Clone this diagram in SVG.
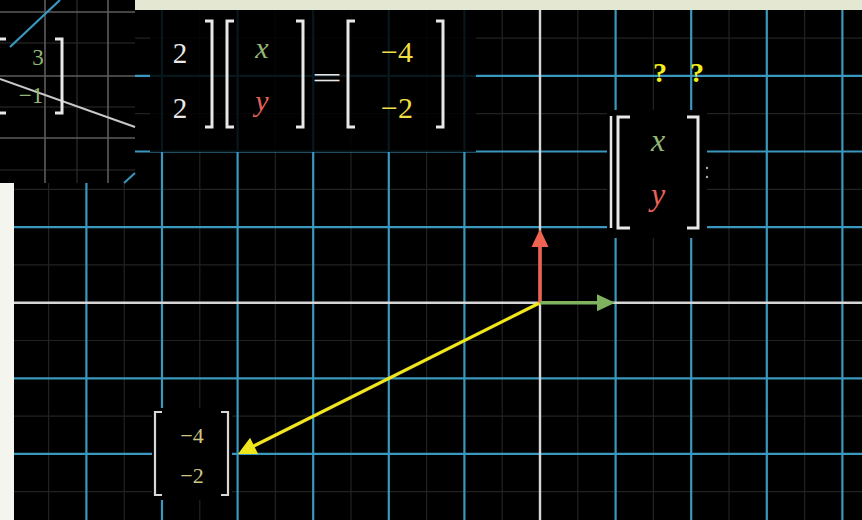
<svg xmlns="http://www.w3.org/2000/svg" width="862" height="520" viewBox="0 0 862 520">
<style>
.minor{stroke:#222222;stroke-width:1.2}
.major{stroke:#3a97bd;stroke-width:2.2}
.axis{stroke:#d6d6d6;stroke-width:2.4}
.br{fill:none;stroke:#e8e8e8;stroke-width:3;stroke-linecap:butt}
.brs{fill:none;stroke:#d8d8d8;stroke-width:2.2}
.tx{font-family:"Liberation Serif","DejaVu Serif",serif;text-anchor:middle}
.it{font-style:italic}
.w{fill:#e8e8e8}
.g{fill:#93b774}
.r{fill:#e4625a}
.yl{fill:#efdf45}
.kh{fill:#cfc785}
.q{fill:#f2ee1c;font-weight:bold}
</style>
<g id="background">
<rect x="0" y="0" width="862" height="520" fill="#000"/>
<rect x="135" y="0" width="727" height="10" fill="#e4e7d1"/>
<rect x="0" y="183" width="14" height="337" fill="#f4f5ef"/>
</g>
<g id="grid">
<g class="minor">
<line x1="48.6" y1="10" x2="48.6" y2="520"/><line x1="124.2" y1="10" x2="124.2" y2="520"/><line x1="199.8" y1="10" x2="199.8" y2="520"/><line x1="275.4" y1="10" x2="275.4" y2="520"/><line x1="351" y1="10" x2="351" y2="520"/><line x1="426.6" y1="10" x2="426.6" y2="520"/><line x1="502.2" y1="10" x2="502.2" y2="520"/><line x1="577.8" y1="10" x2="577.8" y2="520"/><line x1="653.4" y1="10" x2="653.4" y2="520"/><line x1="729" y1="10" x2="729" y2="520"/><line x1="804.6" y1="10" x2="804.6" y2="520"/>
<line x1="14" y1="38.1" x2="862" y2="38.1"/><line x1="14" y1="113.7" x2="862" y2="113.7"/><line x1="14" y1="189.3" x2="862" y2="189.3"/><line x1="14" y1="264.9" x2="862" y2="264.9"/><line x1="14" y1="340.5" x2="862" y2="340.5"/><line x1="14" y1="416.1" x2="862" y2="416.1"/><line x1="14" y1="491.7" x2="862" y2="491.7"/>
</g>
<g class="major">
<line x1="86.4" y1="10" x2="86.4" y2="520"/><line x1="162" y1="10" x2="162" y2="520"/><line x1="237.6" y1="10" x2="237.6" y2="520"/><line x1="313.2" y1="10" x2="313.2" y2="520"/><line x1="388.8" y1="10" x2="388.8" y2="520"/><line x1="464.4" y1="10" x2="464.4" y2="520"/><line x1="615.6" y1="10" x2="615.6" y2="520"/><line x1="691.2" y1="10" x2="691.2" y2="520"/><line x1="766.8" y1="10" x2="766.8" y2="520"/><line x1="842.4" y1="10" x2="842.4" y2="520"/>
<line x1="14" y1="75.9" x2="862" y2="75.9"/><line x1="14" y1="151.5" x2="862" y2="151.5"/><line x1="14" y1="227.1" x2="862" y2="227.1"/><line x1="14" y1="378.3" x2="862" y2="378.3"/><line x1="14" y1="453.9" x2="862" y2="453.9"/>
</g>
<line class="axis" x1="14" y1="302.7" x2="862" y2="302.7"/>
<line class="axis" x1="540" y1="10" x2="540" y2="520"/>
</g>
<g id="inset">
<rect x="0" y="0" width="135" height="183" fill="#000"/>
<g stroke="#2e2e2e" stroke-width="1.2">
<line x1="77" y1="0" x2="77" y2="183"/><line x1="0" y1="43" x2="135" y2="43"/><line x1="0" y1="107" x2="135" y2="107"/><line x1="0" y1="170" x2="135" y2="170"/>
</g>
<g stroke="#5c5c5c" stroke-width="1.6">
<line x1="45" y1="0" x2="45" y2="183"/><line x1="108" y1="0" x2="108" y2="183"/><line x1="0" y1="12" x2="135" y2="12"/><line x1="0" y1="76" x2="135" y2="76"/><line x1="0" y1="138" x2="135" y2="138"/>
</g>
<line x1="10" y1="47" x2="60" y2="0" stroke="#3a97bd" stroke-width="2.2"/>
<line x1="124" y1="183" x2="135" y2="173" stroke="#3a97bd" stroke-width="2"/>
<line x1="0" y1="79" x2="135" y2="127" stroke="#c8c8c8" stroke-width="2"/>
<path class="br" d="M0,39 H6 M0,113 H6"/>
<path class="br" d="M55,39 H62 V113 H55"/>
<text class="tx g" x="38" y="65" font-size="23">3</text>
<text class="tx g" x="31" y="103" font-size="23">−1</text>
</g>
<g id="equation">
<rect x="150" y="10" width="326" height="142" fill="#000" fill-opacity="0.85"/>
<text class="tx w" x="180" y="63" font-size="29">2</text>
<text class="tx w" x="180" y="118" font-size="29">2</text>
<path class="br" d="M205,21 H212 V127 H205"/>
<path class="br" d="M234,21 H227 V127 H234"/>
<text class="tx it g" x="262" y="58" font-size="30">x</text>
<text class="tx it r" x="262" y="111" font-size="30">y</text>
<path class="br" d="M296,21 H303 V127 H296"/>
<text class="tx w" x="327" y="88" font-size="30" textLength="30" lengthAdjust="spacingAndGlyphs">=</text>
<path class="br" d="M355,21 H348 V127 H355"/>
<text class="tx yl" x="397" y="62" font-size="30">−4</text>
<text class="tx yl" x="397" y="118" font-size="30">−2</text>
<path class="br" d="M436,21 H443 V127 H436"/>
</g>
<g id="unknown-vector">
<rect x="607" y="110" width="100" height="128" fill="#000"/>
<line x1="611" y1="116" x2="611" y2="228" stroke="#e8e8e8" stroke-width="2.5"/>
<path class="br" d="M630,117 H618 V228 H630"/>
<path class="br" d="M687,117 H698 V228 H687"/>
<text class="tx it g" x="658" y="151" font-size="32">x</text>
<text class="tx it r" x="658" y="205" font-size="32">y</text>
<circle cx="707" cy="168" r="1.2" fill="#aaa"/>
<circle cx="707" cy="177" r="1.2" fill="#aaa"/>
<text class="tx q" x="660" y="82" font-size="28">?</text>
<text class="tx q" x="697" y="82" font-size="28">?</text>
</g>
<g id="result-label">
<rect x="152" y="408" width="80" height="92" fill="#000"/>
<path class="brs" d="M162,412 H155 V495 H162"/>
<path class="brs" d="M221,412 H228 V495 H221"/>
<text class="tx kh" x="192" y="443" font-size="22">−4</text>
<text class="tx kh" x="192" y="483" font-size="22">−2</text>
</g>
<g id="connectors">
<line x1="540" y1="302.7" x2="253" y2="446.4" stroke="#f0e61e" stroke-width="3.2"/>
<polygon points="238,453.9 258.1,453.9 250.1,437.8" fill="#f0e61e"/>
<line x1="540" y1="302.7" x2="540" y2="246" stroke="#ef6350" stroke-width="3.5"/>
<polygon points="540,229 531.5,247 548.5,247" fill="#ef6350"/>
<line x1="540" y1="302.7" x2="598" y2="302.7" stroke="#7fb35f" stroke-width="3.5"/>
<polygon points="615,302.7 597,294.2 597,311.2" fill="#7fb35f"/>
</g>
</svg>
